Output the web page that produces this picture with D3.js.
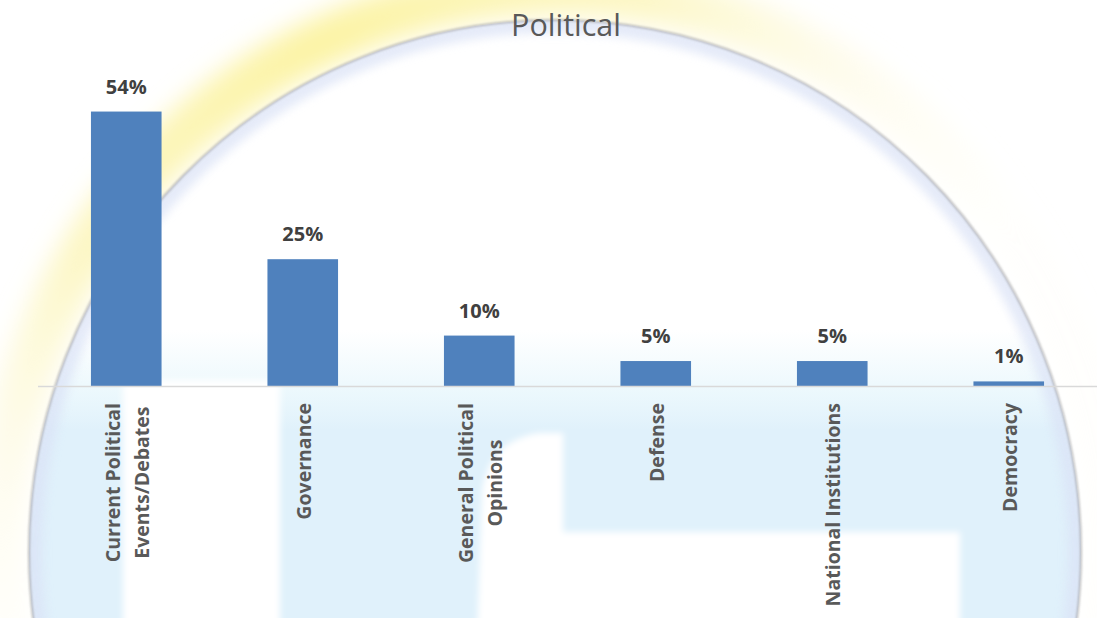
<!DOCTYPE html>
<html>
<head>
<meta charset="utf-8">
<script src="https://cdn.jsdelivr.net/npm/d3@7"></script>
<style>
  html, body { margin: 0; padding: 0; background: #ffffff; }
  svg { display: block; }
</style>
</head>
<body>
<svg id="chart" width="1097" height="618"></svg>
<script>
// Share of political topics
const categories = [
  "Current Political\nEvents/Debates",
  "Governance",
  "General Political\nOpinions",
  "Defense",
  "National Institutions",
  "Democracy"
];
const values = [54, 25, 10, 5, 5, 1];
const valueLabels = ["54%", "25%", "10%", "5%", "5%", "1%"];
const chartTitle = "Political";

const W = 1097, H = 618;
const svg = d3.select("#chart");
const defs = svg.append("defs");

// ---------- decorative backdrop: soft globe emblem ----------
const glob = { cx: 555, cy: 552, rx: 526, ry: 532 };

const blur = (id, sd) => defs.append("filter").attr("id", id)
  .attr("x", "-20%").attr("y", "-20%").attr("width", "140%").attr("height", "140%")
  .append("feGaussianBlur").attr("stdDeviation", sd);
blur("blurWide", 12);
blur("blurMid", 5);
blur("blurSoft", 3);
blur("blurEdge", 1.3);

defs.append("clipPath").attr("id", "globeClip")
  .append("ellipse").attr("cx", glob.cx).attr("cy", glob.cy).attr("rx", glob.rx).attr("ry", glob.ry);

// mask that keeps only what lies outside the globe
const outMask = defs.append("mask").attr("id", "outsideMask");
outMask.append("rect").attr("width", W).attr("height", H).attr("fill", "#fff");
outMask.append("ellipse").attr("cx", glob.cx).attr("cy", glob.cy).attr("rx", glob.rx).attr("ry", glob.ry).attr("fill", "#000");

// halo colour strongest over the upper left, fading to the right and downwards
const glowGrad = defs.append("radialGradient").attr("id", "glowGrad")
  .attr("gradientUnits", "userSpaceOnUse").attr("cx", 330).attr("cy", 60).attr("r", 700);
glowGrad.append("stop").attr("offset", 0).attr("stop-color", "#fcf3a4").attr("stop-opacity", 1);
glowGrad.append("stop").attr("offset", 0.45).attr("stop-color", "#fcf5b8").attr("stop-opacity", 0.8);
glowGrad.append("stop").attr("offset", 0.8).attr("stop-color", "#fdf9dc").attr("stop-opacity", 0.35);
glowGrad.append("stop").attr("offset", 1).attr("stop-color", "#fdfbe8").attr("stop-opacity", 0.1);

const bandGrad = defs.append("linearGradient").attr("id", "bandGrad")
  .attr("gradientUnits", "userSpaceOnUse").attr("x1", 0).attr("y1", 330).attr("x2", 0).attr("y2", 430);
bandGrad.append("stop").attr("offset", 0).attr("stop-color", "#e8f7fc").attr("stop-opacity", 0);
bandGrad.append("stop").attr("offset", 0.6).attr("stop-color", "#e6f6fc").attr("stop-opacity", 0.75);
bandGrad.append("stop").attr("offset", 1).attr("stop-color", "#e0f1fb").attr("stop-opacity", 1);

const bg = svg.append("g").attr("class", "backdrop");
bg.append("rect").attr("width", W).attr("height", H).attr("fill", "#ffffff");

// yellow halo round the globe
bg.append("g").attr("mask", "url(#outsideMask)")
  .append("ellipse")
  .attr("cx", glob.cx).attr("cy", glob.cy).attr("rx", glob.rx + 30).attr("ry", glob.ry + 30)
  .attr("fill", "none").attr("stroke", "url(#glowGrad)").attr("stroke-width", 50)
  .attr("filter", "url(#blurWide)");

const inside = bg.append("g").attr("clip-path", "url(#globeClip)");
// light blue lower field
inside.append("rect").attr("x", 0).attr("y", 300).attr("width", W).attr("height", H - 300)
  .attr("fill", "url(#bandGrad)");
// white cut-outs of the emblem
const whiteShapes = inside.append("g").attr("fill", "#ffffff").attr("filter", "url(#blurSoft)");
whiteShapes.append("rect").attr("x", 123).attr("y", 380).attr("width", 157).attr("height", 260);
whiteShapes.append("path")
  .attr("d", "M477,640 L482,490 Q490,440 540,433 L563,433 L563,532 L960,532 L960,640 Z");
// soft bluish inner rim
inside.append("ellipse")
  .attr("cx", glob.cx).attr("cy", glob.cy).attr("rx", glob.rx).attr("ry", glob.ry)
  .attr("fill", "none").attr("stroke", "#dae2f6").attr("stroke-width", 26)
  .attr("filter", "url(#blurMid)").attr("opacity", 0.7);
// grey outline of the globe
bg.append("ellipse")
  .attr("cx", glob.cx).attr("cy", glob.cy).attr("rx", glob.rx).attr("ry", glob.ry)
  .attr("fill", "none").attr("stroke", "#a4a4a6").attr("stroke-width", 2)
  .attr("filter", "url(#blurEdge)").attr("opacity", 0.75);

// ---------- chart ----------
const margin = { left: 38, right: 0 };
const baseY = 386.5;
const x = d3.scaleBand()
  .domain(categories)
  .range([margin.left, W - margin.right])
  .paddingInner(0.6)
  .paddingOuter(0.3);
const y = d3.scaleLinear().domain([0, 60]).range([baseY, 81]);

const g = svg.append("g").attr("class", "plot");

g.selectAll("rect.bar")
  .data(values)
  .join("rect")
  .attr("class", "bar")
  .attr("x", (d, i) => x(categories[i]))
  .attr("y", d => y(d))
  .attr("width", x.bandwidth())
  .attr("height", d => y(0) - y(d))
  .attr("fill", "#4f81bd");

// horizontal category axis
const xAxis = g.append("g").attr("transform", `translate(0,${baseY})`)
  .call(d3.axisBottom(x).tickSize(0).tickFormat(""));
xAxis.select(".domain").attr("stroke", "#d9d9d9").attr("stroke-width", 1.6)
  .attr("d", `M${margin.left},0H${W}`);

// value labels above bars
g.selectAll("text.value")
  .data(values)
  .join("text")
  .attr("class", "value")
  .attr("x", (d, i) => x(categories[i]) + x.bandwidth() / 2)
  .attr("y", d => y(d) - 18)
  .attr("text-anchor", "middle")
  .attr("font-family", "'Open Sans', sans-serif")
  .attr("font-weight", 700)
  .attr("font-size", 20)
  .attr("fill", "#404040")
  .text((d, i) => valueLabels[i]);

// rotated category labels, lines centred on each other, hanging from the axis
const lineGap = 29;
const labelTop = 403;
categories.forEach(cat => {
  const lines = cat.split("\n");
  const cx = x(cat) + x.bandwidth() / 2;
  const lg = xAxis.append("g")
    .attr("transform", `translate(${cx},${labelTop - baseY}) rotate(-90)`);
  const texts = lines.map((ln, i) => lg.append("text")
    .attr("y", (i - (lines.length - 1) / 2) * lineGap + 8)
    .attr("text-anchor", "middle")
    .attr("font-family", "'Open Sans', sans-serif")
    .attr("font-weight", 700)
    .attr("font-size", 19.5)
    .attr("fill", "#595959")
    .text(ln));
  const maxLen = d3.max(texts, t => t.node().getComputedTextLength());
  texts.forEach(t => t.attr("x", -maxLen / 2));
});

// title
svg.append("text")
  .attr("x", 566).attr("y", 36)
  .attr("text-anchor", "middle")
  .attr("font-family", "'Open Sans', sans-serif")
  .attr("font-size", 30.5)
  .attr("fill", "#595959")
  .text(chartTitle);
</script>
</body>
</html>
